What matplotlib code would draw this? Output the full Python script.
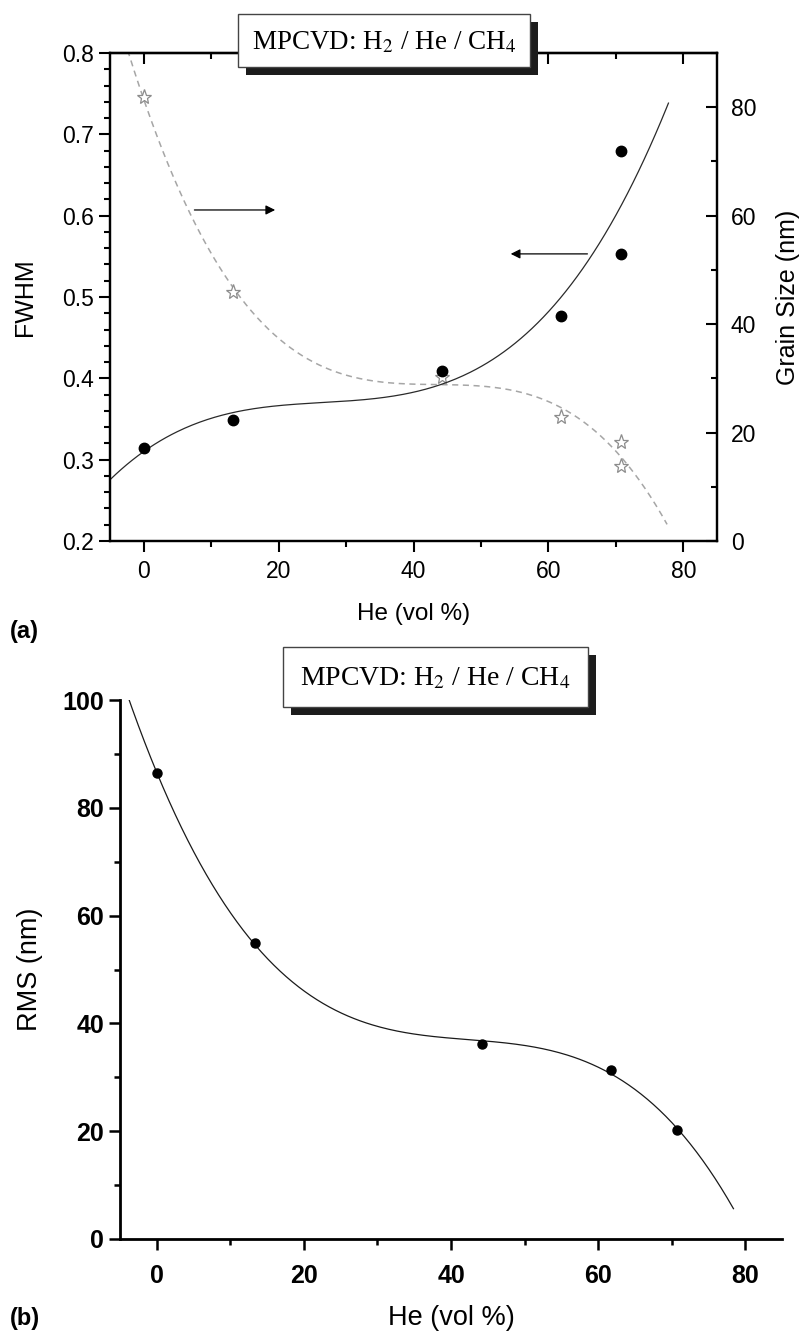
import numpy as np
import matplotlib
matplotlib.use('Agg')
import matplotlib.pyplot as plt
from matplotlib.patches import Rectangle
from matplotlib.ticker import MultipleLocator, FormatStrFormatter

plt.rcParams['font.family'] = ['Liberation Sans', 'DejaVu Sans']
plt.rcParams['mathtext.fontset'] = 'stix'

# (a) FWHM (left axis) and grain size (right axis) vs He content
he_a = [0, 13.3, 44.2, 61.8, 70.7, 70.7]
fwhm = [0.314, 0.349, 0.409, 0.477, 0.680, 0.553]
grain = [81.8, 45.9, 30.2, 22.8, 18.3, 13.8]

# (b) RMS roughness vs He content
he_b = [0, 13.3, 44.2, 61.8, 70.7]
rms = [86.4, 55.0, 36.2, 31.4, 20.2]

xticks = [0, 20, 40, 60, 80]
box_text = 'MPCVD: H$_2$ / He / CH$_4$'

W, H = 800, 1341
fig = plt.figure(figsize=(W / 100, H / 100), dpi=100)


def px_axes(l, t, r, b):
    return fig.add_axes([l / W, 1 - b / H, (r - l) / W, (b - t) / H])


def style_spines(ax, lw=1.6):
    for s in ax.spines.values():
        s.set_linewidth(lw)


def label_box(x0, y0, w, h, size):
    shadow = Rectangle(((x0 + 8) / W, 1 - (y0 + h + 8) / H), w / W, h / H,
                       transform=fig.transFigure, facecolor='#1c1c1c',
                       edgecolor='none', zorder=10)
    box = Rectangle((x0 / W, 1 - (y0 + h) / H), w / W, h / H,
                    transform=fig.transFigure, facecolor='white',
                    edgecolor='#444444', lw=1.0, zorder=11)
    fig.add_artist(shadow)
    fig.add_artist(box)
    fig.text((x0 + w / 2) / W, 1 - (y0 + h / 2 + 2) / H, box_text,
             family='Liberation Serif', fontsize=size, ha='center',
             va='center', zorder=12)


# ---------------- panel (a) ----------------
ax1 = px_axes(110, 53, 717, 541)
style_spines(ax1)
xs = np.linspace(-5, 77.8, 300)
ax1.plot(xs, np.polyval(np.polyfit(he_a, fwhm, 3), xs), color='#2a2a2a', lw=0.9)
ax1.plot(he_a, fwhm, 'o', color='black', ms=7.5, zorder=5)
ax1.set_xlim(-5, 85)
ax1.set_ylim(0.2, 0.8)
ax1.set_xticks(xticks)
ax1.xaxis.set_minor_locator(MultipleLocator(10))
ax1.yaxis.set_major_locator(MultipleLocator(0.1))
ax1.yaxis.set_minor_locator(MultipleLocator(0.02))
ax1.yaxis.set_major_formatter(FormatStrFormatter('%.1f'))
ax1.tick_params(which='both', direction='out', width=1.5, labelsize=16.5)
ax1.tick_params(which='major', length=8)
ax1.tick_params(which='minor', length=4)
ax1.tick_params(axis='x', pad=6)
ax1.set_xlabel('He (vol %)', fontsize=17.5, labelpad=14)
ax1.set_ylabel('FWHM', fontsize=18, labelpad=18)

top = ax1.secondary_xaxis('top')
top.set_xticks(xticks)
top.xaxis.set_minor_locator(MultipleLocator(10))
top.tick_params(which='both', direction='in', width=1.5, labeltop=False)
top.tick_params(which='major', length=8)
top.tick_params(which='minor', length=4)
top.spines['top'].set_linewidth(1.6)

ax2 = ax1.twinx()
style_spines(ax2)
xs2 = np.linspace(-5, 77.6, 300)
ax2.plot(xs2, np.polyval(np.polyfit(he_a, grain, 3), xs2), color='#a6a6a6',
         lw=1.1, ls=(0, (4, 3)))
ax2.plot(he_a, grain, ls='none', marker='*', ms=11, mfc='white',
         mec='#8c8c8c', mew=0.9, zorder=4)
ax2.set_ylim(0, 90)
ax2.yaxis.set_major_locator(MultipleLocator(20))
ax2.yaxis.set_minor_locator(MultipleLocator(10))
ax2.tick_params(which='both', direction='in', width=1.5, labelsize=16.5, pad=10)
ax2.tick_params(which='major', length=8)
ax2.tick_params(which='minor', length=4)
ax2.set_ylabel('Grain Size (nm)', fontsize=18, labelpad=14)
ax1.set_zorder(ax2.get_zorder() + 1)
ax1.patch.set_visible(False)

arrow = dict(arrowstyle='-|>', color='black', lw=0.9, mutation_scale=14)
ax1.annotate('', xy=(19.9, 0.607), xytext=(7.1, 0.607), arrowprops=arrow)
ax1.annotate('', xy=(54.0, 0.553), xytext=(66.2, 0.553), arrowprops=arrow)

label_box(238, 14, 292, 53, 19.5)
fig.text(10 / W, 1 - 632 / H, '(a)', fontsize=17, fontweight='bold',
         va='center', ha='left')

# ---------------- panel (b) ----------------
ax3 = px_axes(120, 700, 782, 1239)
style_spines(ax3, 2.0)
ax3.spines['top'].set_visible(False)
ax3.spines['right'].set_visible(False)
xs3 = np.linspace(-5, 78.4, 300)
ax3.plot(xs3, np.polyval(np.polyfit(he_b, rms, 3), xs3), color='#1a1a1a', lw=0.9)
ax3.plot(he_b, rms, 'o', color='black', ms=6.5, zorder=5)
ax3.set_xlim(-5, 85)
ax3.set_ylim(0, 100)
ax3.set_xticks(xticks)
ax3.xaxis.set_minor_locator(MultipleLocator(10))
ax3.yaxis.set_major_locator(MultipleLocator(20))
ax3.yaxis.set_minor_locator(MultipleLocator(10))
ax3.tick_params(which='both', direction='out', width=1.8, labelsize=18)
ax3.tick_params(which='major', length=8)
ax3.tick_params(which='minor', length=4)
ax3.tick_params(axis='x', pad=10)
for lab in ax3.get_xticklabels() + ax3.get_yticklabels():
    lab.set_fontweight('bold')
ax3.set_xlabel('He (vol %)', fontsize=19.5, labelpad=12)
ax3.set_ylabel('RMS (nm)', fontsize=19.5, labelpad=14)

label_box(283, 647, 305, 60, 20)
fig.text(10 / W, 1 - 1318 / H, '(b)', fontsize=17, fontweight='bold',
         va='center', ha='left')

fig.savefig('out.png', dpi=100)
